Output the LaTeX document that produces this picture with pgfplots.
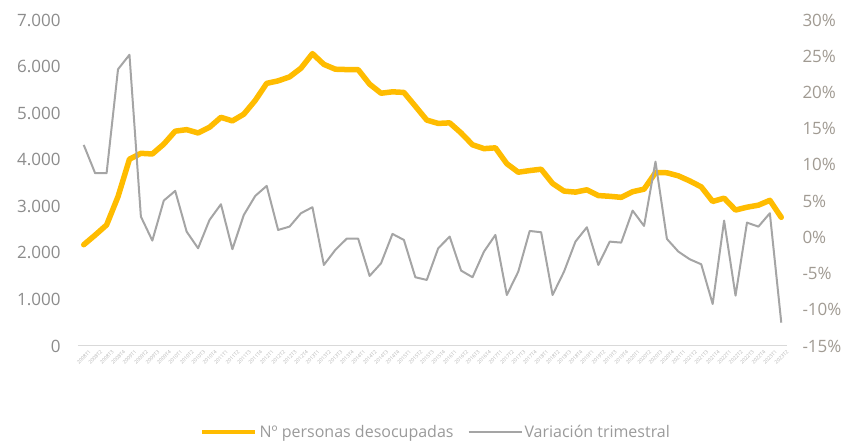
\documentclass[border=0pt]{standalone}
\usepackage{pgfplots}
\pgfplotsset{compat=1.18}
\usepackage{fontspec}
\setmainfont{Open Sans}
\definecolor{cyel}{HTML}{FFBC00}
\definecolor{cgry}{HTML}{A5A5A5}
\definecolor{ctxtL}{HTML}{8C8C8C}
\definecolor{ctxtR}{HTML}{A09A92}
\definecolor{ctxtX}{HTML}{B5B5B5}
\definecolor{ctxtG}{HTML}{9A9A9A}
\definecolor{caxis}{HTML}{D9D9D9}

\pgfplotstableread{
i v
0 2174.2
1 2381.5
2 2598.8
3 3207.9
4 4010.7
5 4137.5
6 4123.3
7 4335.0
8 4612.7
9 4645.5
10 4574.7
11 4696.6
12 4910.2
13 4833.7
14 4978.3
15 5273.6
16 5639.5
17 5693.1
18 5778.1
19 5965.4
20 6278.2
21 6047.3
22 5943.4
23 5935.6
24 5933.3
25 5622.9
26 5427.7
27 5457.7
28 5444.6
29 5149.0
30 4850.8
31 4779.5
32 4791.4
33 4574.7
34 4320.8
35 4237.8
36 4255.0
37 3914.3
38 3731.7
39 3766.7
40 3796.1
41 3490.1
42 3326.0
43 3304.3
44 3354.2
45 3230.6
46 3214.4
47 3191.9
48 3313.0
49 3368.0
50 3722.9
51 3719.8
52 3653.9
53 3543.8
54 3416.7
55 3103.8
56 3174.7
57 2919.4
58 2980.2
59 3024.0
60 3127.8
61 2762.5
}\desocupados

\pgfplotstableread{
i v
0 12.76
1 8.85
2 8.85
3 23.2
4 25.2
5 2.86
6 -0.45
7 5.07
8 6.41
9 0.79
10 -1.51
11 2.40
12 4.57
13 -1.64
14 3.09
15 5.72
16 7.10
17 1.02
18 1.48
19 3.33
20 4.16
21 -3.81
22 -1.74
23 -0.18
24 -0.18
25 -5.33
26 -3.58
27 0.47
28 -0.36
29 -5.51
30 -5.88
31 -1.51
32 0.10
33 -4.59
34 -5.51
35 -1.97
36 0.33
37 -7.96
38 -4.74
39 0.88
40 0.70
41 -7.96
42 -4.74
43 -0.59
44 1.39
45 -3.81
46 -0.59
47 -0.73
48 3.69
49 1.57
50 10.45
51 -0.22
52 -1.97
53 -3.03
54 -3.72
55 -9.20
56 2.31
57 -8.05
58 2.03
59 1.48
60 3.33
61 -11.78
}\variacion

\pgfplotsset{
  base/.style={
    scale only axis, width=709bp, height=326bp,
    xmin=-0.5, xmax=61.5,
    axis line style={draw=none},
    tick style={draw=none},
    /pgf/number format/assume math mode=true,
  }
}

\begin{document}
\begin{tikzpicture}
\path[use as bounding box] (-78bp,-98bp) rectangle (779bp,346bp);
\begin{axis}[base,
  ymin=0, ymax=7000,
  ytick={0,1000,...,7000},
  scaled y ticks=false,
  yticklabel style={/pgf/number format/1000 sep={.}, font=\fontsize{17bp}{20bp}\selectfont, text=ctxtL, anchor=east, xshift=-14bp},
  xtick={0,...,61},
  xticklabels={2008T1,2008T2,2008T3,2008T4,2009T1,2009T2,2009T3,2009T4,2010T1,2010T2,2010T3,2010T4,2011T1,2011T2,2011T3,2011T4,2012T1,2012T2,2012T3,2012T4,2013T1,2013T2,2013T3,2013T4,2014T1,2014T2,2014T3,2014T4,2015T1,2015T2,2015T3,2015T4,2016T1,2016T2,2016T3,2016T4,2017T1,2017T2,2017T3,2017T4,2018T1,2018T2,2018T3,2018T4,2019T1,2019T2,2019T3,2019T4,2020T1,2020T2,2020T3,2020T4,2021T1,2021T2,2021T3,2021T4,2022T1,2022T2,2022T3,2022T4,2023T1,2023T2},
  xticklabel style={rotate=45, anchor=north east, font=\fontsize{5bp}{6bp}\selectfont, text=ctxtX, inner sep=0pt, yshift=-6bp, xshift=1bp},
]
\draw[caxis, line width=1.5bp] (axis cs:-0.5,0) -- (axis cs:61.5,0);
\addplot[cyel, line width=5.5bp, line join=round, line cap=round] table[x=i,y=v] {\desocupados};
\end{axis}
\begin{axis}[base,
  ymin=-15, ymax=30,
  ytick={-15,-10,...,30},
  hide x axis,
  yticklabel pos=right,
  yticklabel={\pgfmathprintnumber{\tick}\%},
  yticklabel style={font=\fontsize{17bp}{20bp}\selectfont, text=ctxtR, anchor=west, xshift=12bp},
  legend style={at={(0.505,-0.264)}, anchor=center, draw=none, fill=none,
    legend columns=2, font=\fontsize{16bp}{18bp}\selectfont, text=ctxtG,
    /tikz/every even column/.append style={column sep=12bp},
    inner sep=0pt},
  legend image code/.code={\draw[#1] (0bp,0bp) -- (53bp,0bp);},
]
\addlegendimage{cyel, line width=4.5bp}
\addlegendentry{Nº personas desocupadas}
\addplot[cgry, line width=2bp, line join=round] table[x=i,y=v] {\variacion};
\addlegendentry{Variación trimestral}
\end{axis}
\end{tikzpicture}
\end{document}
